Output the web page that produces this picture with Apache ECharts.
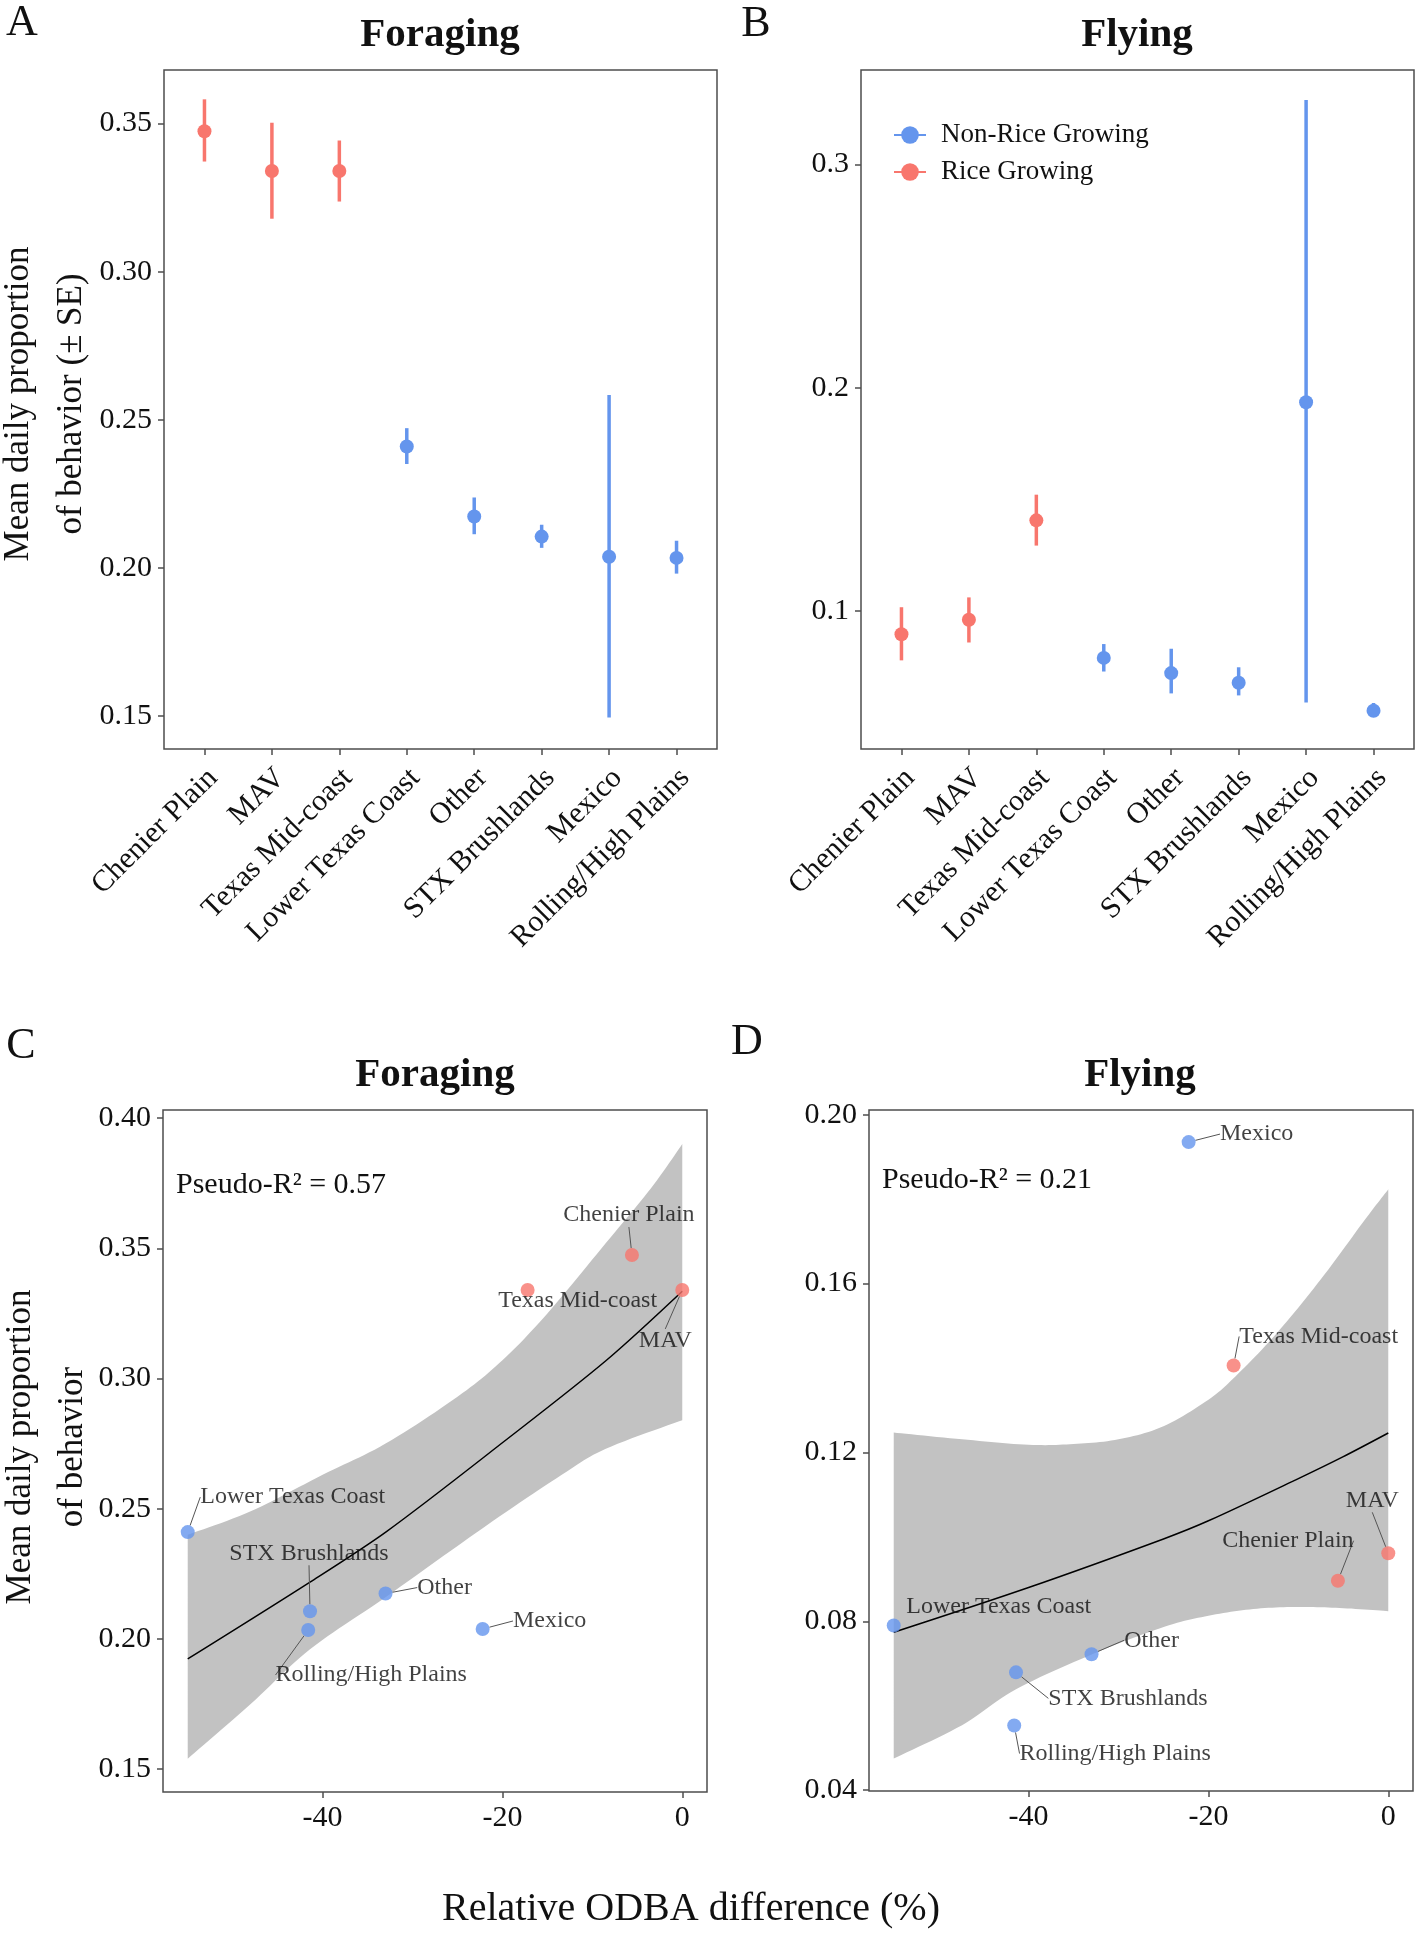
<!DOCTYPE html>
<html lang="en">
<head>
<meta charset="UTF-8">
<title>Foraging and flying by region</title>
<script src="https://cdn.jsdelivr.net/npm/echarts@6/dist/echarts.min.js"></script>
<style>
    html, body { margin: 0; padding: 0; background: #ffffff; }
    #chart { width: 1418px; height: 1935px; }
</style>
</head>
<body>
<div id="chart"></div>
<script type="text/javascript">
    // regions, in the order used on the x axis of panels A and B
    var regions = ['Chenier Plain', 'MAV', 'Texas Mid-coast', 'Lower Texas Coast',
                   'Other', 'STX Brushlands', 'Mexico', 'Rolling/High Plains'];
    var riceGrowing = [true, true, true, false, false, false, false, false];

    // panel A: foraging, mean daily proportion and +/- SE limits
    var forageMean = [0.3474, 0.3340, 0.3340, 0.2410, 0.2174, 0.2106, 0.2038, 0.2034];
    var forageLow  = [0.3372, 0.3179, 0.3237, 0.2351, 0.2114, 0.2068, 0.1495, 0.1981];
    var forageHigh = [0.3582, 0.3503, 0.3443, 0.2472, 0.2238, 0.2146, 0.2584, 0.2092];

    // panel B: flying
    var flyMean = [0.0896, 0.0961, 0.1406, 0.0790, 0.0722, 0.0679, 0.1935, 0.0553];
    var flyLow  = [0.0779, 0.0859, 0.1293, 0.0729, 0.0631, 0.0622, 0.0590, 0.0527];
    var flyHigh = [0.1017, 0.1061, 0.1521, 0.0852, 0.0831, 0.0748, 0.3289, 0.0588];

    // panels C and D: relative ODBA difference (%) per region
    var odbaDiff = [-5.6, 0, -17.2, -55, -33, -41.4, -22.2, -41.6];

    // panel C fit and band
    var forageFitX = [-55, -41.4, -32.9, -19.9, -8.5, 0];
    var forageFitY = [0.1923, 0.2218, 0.2412, 0.2756, 0.3068, 0.3335];
    var forageUpX = [-55, -48, -40, -33, -25, -20, -15, -8.5, -3.5, 0];
    var forageUpY = [0.240, 0.249, 0.263, 0.275, 0.293, 0.307, 0.325, 0.352, 0.373, 0.390];
    var forageLoX = [-55, -48, -41.4, -33, -22, -13.4, -8.5, 0];
    var forageLoY = [0.154, 0.175, 0.196, 0.216, 0.243, 0.263, 0.273, 0.284];

    // panel D fit and band
    var flyFitX = [-55, -40, -25, -20, -10, -5, 0];
    var flyFitY = [0.0774, 0.0880, 0.0995, 0.1038, 0.1138, 0.1190, 0.1246];
    var flyUpX = [-55, -47.4, -40, -35, -30, -25, -20, -17, -12.5, -7.5, -2.5, 0];
    var flyUpY = [0.1247, 0.1231, 0.1218, 0.1220, 0.1231, 0.1262, 0.1325, 0.1380, 0.1480, 0.1610, 0.1754, 0.1823];
    var flyLoX = [-55, -47.4, -41.4, -32.8, -24.9, -20, -15, -10, -5, 0];
    var flyLoY = [0.0475, 0.0554, 0.0639, 0.0723, 0.0787, 0.0813, 0.0829, 0.0834, 0.0831, 0.0824];

    var yTicksA = [0.15, 0.20, 0.25, 0.30, 0.35];
    var yTicksB = [0.1, 0.2, 0.3];
    var yTicksC = [0.15, 0.20, 0.25, 0.30, 0.35, 0.40];
    var yTicksD = [0.04, 0.08, 0.12, 0.16, 0.20];
    var xTicksCD = [-40, -20, 0];

    var BLUE = '#6495ED';
    var RED = '#F8766D';
    var SERIF = '"Liberation Serif", "Times New Roman", serif';
    var INK = '#111111';
    var FRAME = '#4d4d4d';

    // label offsets (px) of the repelled labels in C and D
    var labelShiftC = {
        'Chenier Plain': [-3, -40], 'Texas Mid-coast': [50, 11], 'MAV': [-17, 51],
        'Lower Texas Coast': [105, -35], 'STX Brushlands': [-1, -58], 'Other': [59, -6],
        'Mexico': [67, -8], 'Rolling/High Plains': [63, 45]
    };
    var labelShiftD = {
        'Mexico': [68, -8], 'Texas Mid-coast': [85, -29], 'MAV': [-16, -53],
        'Chenier Plain': [-50, -40], 'Lower Texas Coast': [105, -19], 'Other': [60, -14],
        'STX Brushlands': [112, 26], 'Rolling/High Plains': [101, 28]
    };
    var noSegC = ['Texas Mid-coast'];
    var noSegD = ['Lower Texas Coast'];

    var myChart = echarts.init(document.getElementById('chart'), null, {renderer: 'canvas'});

    function regionAxis(idx) {
        var ticks = regions.map(function (r, i) { return i + 1; });
        return {
            type: 'value', gridIndex: idx, min: 0.4, max: 8.6,
            axisLine: {show: false, onZero: false},
            splitLine: {show: false},
            axisTick: {show: true, customValues: ticks, length: 6, lineStyle: {color: FRAME, width: 1.5}},
            axisLabel: {
                customValues: ticks, rotate: 45, margin: 16,
                verticalAlign: 'top', lineHeight: 24,
                fontSize: 30, fontFamily: SERIF, color: INK,
                formatter: function (v) { return regions[Math.round(v) - 1]; }
            }
        };
    }

    function valueAxis(idx, min, max, ticks, digits, vertical) {
        return {
            type: 'value', gridIndex: idx, min: min, max: max,
            axisLine: {show: false, onZero: false},
            splitLine: {show: false},
            axisTick: {show: true, customValues: ticks, length: 6, lineStyle: {color: FRAME, width: 1.5}},
            axisLabel: {
                customValues: ticks, margin: vertical ? 12 : 11,
                fontSize: 30, fontFamily: SERIF, color: INK,
                formatter: function (v) { return digits === null ? String(v) : v.toFixed(digits); }
            }
        };
    }

    function errorBars(mean, lo, hi, idx) {
        return {
            type: 'custom', xAxisIndex: idx, yAxisIndex: idx, z: 3,
            data: regions.map(function (r, i) { return [i + 1, lo[i], hi[i], mean[i], riceGrowing[i] ? 1 : 0]; }),
            encode: {x: 0, y: [1, 2, 3]},
            renderItem: function (params, api) {
                var x = api.value(0);
                var top = api.coord([x, api.value(2)]);
                var bot = api.coord([x, api.value(1)]);
                var mid = api.coord([x, api.value(3)]);
                var c = api.value(4) ? RED : BLUE;
                return {
                    type: 'group', children: [
                        {type: 'line', shape: {x1: top[0], y1: top[1], x2: bot[0], y2: bot[1]},
                         style: {stroke: c, lineWidth: 3.5}},
                        {type: 'circle', shape: {cx: mid[0], cy: mid[1], r: 7}, style: {fill: c}}
                    ]
                };
            }
        };
    }

    // catmull-rom smoothing of screen points, for drawing the band outline
    function smoothPts(pts) {
        var out = [pts[0]], steps = 12;
        for (var i = 0; i < pts.length - 1; i++) {
            var p0 = pts[i - 1] || pts[i], p1 = pts[i], p2 = pts[i + 1], p3 = pts[i + 2] || pts[i + 1];
            for (var s = 1; s <= steps; s++) {
                var t = s / steps, t2 = t * t, t3 = t2 * t;
                out.push([0, 1].map(function (k) {
                    return 0.5 * (2 * p1[k] + (p2[k] - p0[k]) * t +
                        (2 * p0[k] - 5 * p1[k] + 4 * p2[k] - p3[k]) * t2 +
                        (3 * p1[k] - p0[k] - 3 * p2[k] + p3[k]) * t3);
                }));
            }
        }
        return out;
    }

    function band(upX, upY, loX, loY, idx) {
        return {
            type: 'custom', xAxisIndex: idx, yAxisIndex: idx, z: 1, silent: true, clip: false,
            data: [[upX[0], upY[0]]],
            encode: {x: 0, y: 1},
            renderItem: function (params, api) {
                var up = upX.map(function (x, i) { return api.coord([x, upY[i]]); });
                var lo = loX.map(function (x, i) { return api.coord([x, loY[i]]); });
                var pts = smoothPts(up).concat(smoothPts(lo).reverse());
                return {type: 'polygon', shape: {points: pts}, style: {fill: '#c2c2c2'}};
            }
        };
    }

    function fitLine(xs, ys, idx) {
        return {
            type: 'line', xAxisIndex: idx, yAxisIndex: idx, z: 3, silent: true,
            symbol: 'none', smooth: 0.3,
            lineStyle: {color: '#000000', width: 1.5},
            data: xs.map(function (x, i) { return [x, ys[i]]; })
        };
    }

    function labelled(mean, shift, noSeg, idx) {
        return {
            type: 'scatter', xAxisIndex: idx, yAxisIndex: idx, z: 5, symbolSize: 14,
            data: regions.map(function (r, i) {
                return {
                    name: r, value: [odbaDiff[i], mean[i]],
                    itemStyle: {color: riceGrowing[i] ? RED : BLUE},
                    labelLine: {show: noSeg.indexOf(r) < 0}
                };
            }),
            label: {show: true, position: 'inside', formatter: '{b}',
                    fontSize: 24, fontFamily: SERIF, color: INK},
            labelLine: {show: true, lineStyle: {color: '#555555', width: 1}},
            labelLayout: function (p) {
                var s = shift[regions[p.dataIndex]];
                return {dx: s[0], dy: s[1]};
            }
        };
    }

    function txt(x, y, text, font, rot) {
        return {
            type: 'text', x: x, y: y, rotation: rot || 0, silent: true,
            style: {text: text, font: font, fill: INK, align: 'center', verticalAlign: 'middle'}
        };
    }

    var letterFont = '44px ' + SERIF;
    var titleFont = 'bold 41px ' + SERIF;
    var yTitleFont = '35px ' + SERIF;

    option = {
        animation: false,
        backgroundColor: '#ffffff',
        grid: [
            {left: 164, top: 70, width: 553, height: 679, show: true, borderColor: FRAME, borderWidth: 1.5},
            {left: 861, top: 70, width: 553, height: 679, show: true, borderColor: FRAME, borderWidth: 1.5},
            {left: 163, top: 1110, width: 544, height: 682, show: true, borderColor: FRAME, borderWidth: 1.5},
            {left: 869, top: 1110, width: 544, height: 681, show: true, borderColor: FRAME, borderWidth: 1.5}
        ],
        xAxis: [
            regionAxis(0),
            regionAxis(1),
            valueAxis(2, -57.75, 2.75, xTicksCD, null, false),
            valueAxis(3, -57.75, 2.75, xTicksCD, null, false)
        ],
        yAxis: [
            valueAxis(0, 0.1389, 0.3681, yTicksA, 2, true),
            valueAxis(1, 0.0382, 0.3423, yTicksB, 1, true),
            valueAxis(2, 0.1412, 0.4031, yTicksC, 2, true),
            valueAxis(3, 0.0398, 0.2011, yTicksD, 2, true)
        ],
        legend: {
            left: 888, top: 114, orient: 'vertical',
            itemWidth: 32, itemHeight: 22, itemGap: 5,
            data: ['Non-Rice Growing', 'Rice Growing'],
            textStyle: {fontSize: 27, fontFamily: SERIF, color: INK, lineHeight: 32, padding: [0, 0, 0, 10]}
        },
        series: [
            errorBars(forageMean, forageLow, forageHigh, 0),
            errorBars(flyMean, flyLow, flyHigh, 1),
            {name: 'Non-Rice Growing', type: 'line', xAxisIndex: 1, yAxisIndex: 1, data: [],
             color: BLUE, symbol: 'circle', symbolSize: 14, lineStyle: {width: 3}},
            {name: 'Rice Growing', type: 'line', xAxisIndex: 1, yAxisIndex: 1, data: [],
             color: RED, symbol: 'circle', symbolSize: 14, lineStyle: {width: 3}},
            band(forageUpX, forageUpY, forageLoX, forageLoY, 2),
            fitLine(forageFitX, forageFitY, 2),
            labelled(forageMean, labelShiftC, noSegC, 2),
            band(flyUpX, flyUpY, flyLoX, flyLoY, 3),
            fitLine(flyFitX, flyFitY, 3),
            labelled(flyMean, labelShiftD, noSegD, 3)
        ],
        graphic: [
            txt(22, 23, 'A', letterFont),
            txt(756, 24, 'B', letterFont),
            txt(21, 1046, 'C', letterFont),
            txt(747, 1042, 'D', letterFont),
            txt(440, 35, 'Foraging', titleFont),
            txt(1137, 35, 'Flying', titleFont),
            txt(435, 1075, 'Foraging', titleFont),
            txt(1140, 1075, 'Flying', titleFont),
            txt(19, 404, 'Mean daily proportion', yTitleFont, Math.PI / 2),
            txt(72, 404, 'of behavior (\u00b1 SE)', yTitleFont, Math.PI / 2),
            txt(21, 1447, 'Mean daily proportion', yTitleFont, Math.PI / 2),
            txt(73, 1447, 'of behavior', yTitleFont, Math.PI / 2),
            txt(691, 1909, 'Relative ODBA difference (%)', '40px ' + SERIF),
            {type: 'text', x: 176, y: 1185, silent: true,
             style: {text: 'Pseudo-R\u00b2 = 0.57', font: '30px ' + SERIF, fill: INK, align: 'left', verticalAlign: 'middle'}},
            {type: 'text', x: 882, y: 1180, silent: true,
             style: {text: 'Pseudo-R\u00b2 = 0.21', font: '30px ' + SERIF, fill: INK, align: 'left', verticalAlign: 'middle'}}
        ]
    };
    myChart.setOption(option);
</script>
</body>
</html>
